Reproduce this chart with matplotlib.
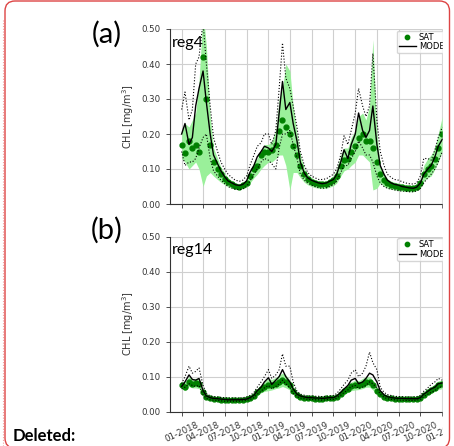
import pandas as pd
import matplotlib
matplotlib.use("Agg")
import matplotlib.pyplot as plt
import matplotlib.dates as mdates
from matplotlib.patches import FancyBboxPatch, Rectangle
from matplotlib.lines import Line2D

# semi-monthly time axis, Jan 2018 .. Jan 2021
dates = pd.date_range("2018-01-01", "2021-01-01", freq="SMS")

# ---- reg4 ----
model4 = [0.20, 0.23, 0.17, 0.19, 0.28, 0.33, 0.38, 0.29, 0.20, 0.14, 0.115, 0.095,
          0.078, 0.066, 0.060, 0.055, 0.053, 0.056, 0.066, 0.090, 0.11, 0.135, 0.15, 0.165,
          0.16, 0.15, 0.17, 0.26, 0.35, 0.27, 0.29, 0.23, 0.18, 0.12, 0.088, 0.075,
          0.068, 0.064, 0.060, 0.058, 0.060, 0.065, 0.070, 0.085, 0.12, 0.155, 0.13, 0.17,
          0.20, 0.26, 0.21, 0.19, 0.21, 0.28, 0.17, 0.11, 0.085, 0.068, 0.060, 0.056,
          0.054, 0.050, 0.048, 0.046, 0.045, 0.048, 0.060, 0.085, 0.10, 0.11, 0.135, 0.165,
          0.185]
model4_hi = [0.27, 0.32, 0.24, 0.27, 0.40, 0.42, 0.52, 0.40, 0.28, 0.19, 0.15, 0.12,
             0.10, 0.085, 0.075, 0.068, 0.065, 0.068, 0.08, 0.11, 0.14, 0.165, 0.175, 0.20,
             0.20, 0.17, 0.21, 0.33, 0.46, 0.36, 0.33, 0.28, 0.22, 0.15, 0.11, 0.09,
             0.08, 0.075, 0.07, 0.07, 0.072, 0.078, 0.085, 0.10, 0.14, 0.195, 0.17, 0.21,
             0.26, 0.33, 0.28, 0.25, 0.28, 0.43, 0.24, 0.15, 0.11, 0.085, 0.075, 0.07,
             0.068, 0.064, 0.06, 0.058, 0.057, 0.06, 0.08, 0.13, 0.13, 0.125, 0.155, 0.19,
             0.22]
model4_lo = [0.15, 0.11, 0.12, 0.12, 0.13, 0.16, 0.19, 0.20, 0.13, 0.095, 0.08, 0.068,
             0.058, 0.05, 0.045, 0.042, 0.041, 0.043, 0.05, 0.065, 0.085, 0.10, 0.12, 0.13,
             0.125, 0.115, 0.10, 0.16, 0.20, 0.20, 0.21, 0.17, 0.13, 0.085, 0.068, 0.06,
             0.054, 0.05, 0.046, 0.045, 0.046, 0.05, 0.055, 0.065, 0.09, 0.11, 0.11, 0.13,
             0.15, 0.18, 0.16, 0.14, 0.14, 0.12, 0.08, 0.06, 0.05, 0.045, 0.042, 0.04,
             0.038, 0.037, 0.036, 0.035, 0.035, 0.037, 0.045, 0.06, 0.075, 0.085, 0.10, 0.12,
             0.15]
sat4 = [0.17, 0.145, 0.18, 0.16, 0.17, 0.15, 0.42, 0.30, 0.17, 0.12, 0.10, 0.085,
        0.072, 0.062, 0.056, 0.052, 0.05, 0.053, 0.06, 0.08, 0.10, 0.11, 0.14, 0.15,
        0.15, 0.155, 0.17, 0.21, 0.24, 0.22, 0.20, 0.165, 0.14, 0.11, 0.085, 0.072,
        0.064, 0.06, 0.057, 0.056, 0.058, 0.062, 0.068, 0.08, 0.11, 0.125, 0.13, 0.15,
        0.165, 0.19, 0.20, 0.18, 0.18, 0.16, 0.12, 0.085, 0.068, 0.06, 0.055, 0.052,
        0.05, 0.048, 0.046, 0.045, 0.045, 0.048, 0.06, 0.085, 0.10, 0.11, 0.13, 0.16,
        0.20]
sat4_hi = [0.21, 0.23, 0.22, 0.24, 0.26, 0.35, 0.55, 0.45, 0.25, 0.16, 0.13, 0.105,
           0.088, 0.074, 0.066, 0.06, 0.058, 0.062, 0.07, 0.095, 0.12, 0.13, 0.15, 0.17,
           0.17, 0.18, 0.21, 0.30, 0.33, 0.40, 0.38, 0.28, 0.20, 0.14, 0.10, 0.085,
           0.075, 0.07, 0.066, 0.065, 0.066, 0.07, 0.08, 0.10, 0.14, 0.16, 0.16, 0.19,
           0.21, 0.25, 0.26, 0.24, 0.28, 0.47, 0.20, 0.11, 0.085, 0.072, 0.065, 0.062,
           0.06, 0.057, 0.055, 0.053, 0.053, 0.057, 0.07, 0.11, 0.13, 0.14, 0.16, 0.20,
           0.25]
sat4_lo = [0.13, 0.12, 0.10, 0.11, 0.12, 0.10, 0.05, 0.08, 0.09, 0.08, 0.07, 0.062,
           0.055, 0.049, 0.045, 0.042, 0.042, 0.044, 0.048, 0.06, 0.075, 0.085, 0.10, 0.11,
           0.12, 0.12, 0.13, 0.14, 0.14, 0.11, 0.04, 0.09, 0.09, 0.075, 0.062, 0.055,
           0.05, 0.047, 0.045, 0.044, 0.045, 0.048, 0.052, 0.06, 0.08, 0.095, 0.10, 0.11,
           0.12, 0.14, 0.14, 0.13, 0.12, 0.04, 0.045, 0.06, 0.05, 0.045, 0.042, 0.04,
           0.038, 0.037, 0.036, 0.035, 0.035, 0.038, 0.045, 0.065, 0.075, 0.08, 0.10, 0.12,
           0.15]

# ---- reg14 ----
model14 = [0.072, 0.085, 0.105, 0.092, 0.09, 0.095, 0.06, 0.045, 0.04, 0.038, 0.037, 0.036,
           0.035, 0.034, 0.034, 0.034, 0.034, 0.035, 0.036, 0.04, 0.047, 0.06, 0.07, 0.085,
           0.097, 0.078, 0.09, 0.10, 0.12, 0.10, 0.085, 0.065, 0.05, 0.045, 0.042, 0.04,
           0.04, 0.039, 0.039, 0.038, 0.039, 0.04, 0.04, 0.045, 0.055, 0.065, 0.075, 0.09,
           0.095, 0.08, 0.085, 0.095, 0.11, 0.105, 0.085, 0.06, 0.048, 0.043, 0.04, 0.039,
           0.038, 0.038, 0.037, 0.037, 0.037, 0.037, 0.04, 0.05, 0.058, 0.065, 0.07, 0.08,
           0.082]
model14_hi = [0.08, 0.10, 0.13, 0.11, 0.115, 0.125, 0.075, 0.052, 0.045, 0.043, 0.042, 0.041,
              0.04, 0.039, 0.039, 0.039, 0.039, 0.04, 0.042, 0.046, 0.055, 0.07, 0.085, 0.10,
              0.12, 0.095, 0.105, 0.12, 0.165, 0.13, 0.13, 0.085, 0.058, 0.05, 0.047, 0.045,
              0.045, 0.044, 0.044, 0.043, 0.044, 0.045, 0.046, 0.052, 0.065, 0.078, 0.09, 0.11,
              0.12, 0.10, 0.11, 0.13, 0.17, 0.14, 0.12, 0.07, 0.055, 0.049, 0.046, 0.044,
              0.043, 0.043, 0.042, 0.042, 0.042, 0.043, 0.046, 0.058, 0.068, 0.078, 0.085, 0.095,
              0.09]
model14_lo = [0.065, 0.07, 0.08, 0.075, 0.072, 0.075, 0.048, 0.038, 0.034, 0.033, 0.032, 0.031,
              0.03, 0.03, 0.03, 0.03, 0.03, 0.031, 0.032, 0.035, 0.04, 0.05, 0.058, 0.068,
              0.075, 0.065, 0.072, 0.08, 0.09, 0.08, 0.068, 0.052, 0.043, 0.039, 0.037, 0.035,
              0.035, 0.034, 0.034, 0.033, 0.034, 0.035, 0.035, 0.039, 0.047, 0.055, 0.062, 0.072,
              0.075, 0.066, 0.07, 0.075, 0.085, 0.08, 0.068, 0.05, 0.041, 0.037, 0.035, 0.034,
              0.033, 0.033, 0.032, 0.032, 0.032, 0.033, 0.035, 0.043, 0.05, 0.055, 0.06, 0.068,
              0.072]
sat14 = [0.075, 0.07, 0.085, 0.08, 0.082, 0.08, 0.055, 0.042, 0.038, 0.036, 0.035, 0.034,
         0.033, 0.033, 0.033, 0.033, 0.033, 0.034, 0.035, 0.038, 0.045, 0.055, 0.065, 0.07,
         0.075, 0.075, 0.08, 0.085, 0.09, 0.085, 0.075, 0.06, 0.048, 0.043, 0.04, 0.039,
         0.038, 0.037, 0.037, 0.037, 0.038, 0.038, 0.039, 0.043, 0.05, 0.058, 0.065, 0.072,
         0.075, 0.075, 0.08, 0.085, 0.085, 0.075, 0.06, 0.05, 0.043, 0.04, 0.038, 0.037,
         0.036, 0.036, 0.036, 0.035, 0.035, 0.036, 0.038, 0.048, 0.055, 0.062, 0.068, 0.075,
         0.078]
sat14_hi = [0.085, 0.085, 0.10, 0.095, 0.095, 0.095, 0.065, 0.048, 0.042, 0.04, 0.039, 0.038,
            0.037, 0.037, 0.037, 0.037, 0.037, 0.038, 0.039, 0.043, 0.052, 0.065, 0.078, 0.085,
            0.095, 0.092, 0.098, 0.105, 0.11, 0.105, 0.09, 0.072, 0.055, 0.048, 0.044, 0.043,
            0.042, 0.041, 0.041, 0.041, 0.042, 0.042, 0.043, 0.048, 0.057, 0.067, 0.076, 0.085,
            0.09, 0.088, 0.095, 0.10, 0.10, 0.09, 0.07, 0.057, 0.048, 0.044, 0.042, 0.041,
            0.04, 0.04, 0.04, 0.039, 0.039, 0.04, 0.043, 0.055, 0.063, 0.072, 0.078, 0.088,
            0.09]
sat14_lo = [0.065, 0.06, 0.072, 0.068, 0.068, 0.066, 0.045, 0.037, 0.034, 0.032, 0.031, 0.031,
            0.03, 0.03, 0.03, 0.03, 0.03, 0.031, 0.031, 0.034, 0.039, 0.046, 0.054, 0.058,
            0.06, 0.062, 0.066, 0.068, 0.072, 0.068, 0.062, 0.05, 0.042, 0.038, 0.036, 0.035,
            0.034, 0.034, 0.033, 0.033, 0.034, 0.034, 0.035, 0.038, 0.044, 0.05, 0.055, 0.06,
            0.062, 0.063, 0.066, 0.07, 0.07, 0.062, 0.05, 0.044, 0.038, 0.036, 0.034, 0.033,
            0.033, 0.033, 0.032, 0.032, 0.032, 0.032, 0.034, 0.042, 0.047, 0.053, 0.058, 0.063,
            0.066]

yticks = [0.0, 0.1, 0.2, 0.3, 0.4, 0.5]

W, H = 454, 446


def px_box(left, top, right, bottom):
    return [left / W, 1 - bottom / H, (right - left) / W, (bottom - top) / H]


def draw_panel(ax, sat, sat_lo, sat_hi, model, model_lo, model_hi):
    ax.fill_between(dates, sat_lo, sat_hi, color="#9af09a", lw=0, zorder=1)
    ax.plot(dates, sat, "o", color="green", ms=3.5, zorder=2, label="SAT")
    ax.plot(dates, model_hi, ":", color="black", lw=0.8, zorder=3)
    ax.plot(dates, model_lo, ":", color="black", lw=0.8, zorder=3)
    ax.plot(dates, model, "-", color="black", lw=1.0, zorder=4, label="MODEL")

    ax.set_xlim(pd.Timestamp("2017-11-13"), pd.Timestamp("2021-02-15"))
    ax.set_ylim(0, 0.5)
    ax.set_yticks(yticks)
    ax.set_yticklabels(["%.2f" % v for v in yticks])
    ax.xaxis.set_major_locator(mdates.MonthLocator(bymonth=[1, 4, 7, 10]))
    ax.xaxis.set_major_formatter(mdates.DateFormatter("%m-%Y"))
    ax.grid(True, color="#cfcfcf", lw=0.8)
    ax.set_axisbelow(True)
    for s in ["top", "right"]:
        ax.spines[s].set_visible(False)
    for s in ["left", "bottom"]:
        ax.spines[s].set_color("#333333")
        ax.spines[s].set_linewidth(0.8)
    ax.tick_params(labelsize=6.2, colors="#333333", length=3, width=0.6)
    ax.set_ylabel("CHL [mg/m$^3$]", fontsize=7, color="#333333", labelpad=4)
    ax.legend(loc="upper right", fontsize=6, numpoints=1, borderaxespad=0.2,
              borderpad=0.25, labelspacing=0.05, handlelength=2.0,
              handletextpad=0.4, markerscale=0.9)


def main():
    fig = plt.figure(figsize=(W / 100, H / 100), dpi=100)

    ax1 = fig.add_axes(px_box(170, 29, 453, 204))
    draw_panel(ax1, sat4, sat4_lo, sat4_hi, model4, model4_lo, model4_hi)
    ax1.tick_params(labelbottom=False)

    ax2 = fig.add_axes(px_box(170, 236.5, 453, 411.7))
    draw_panel(ax2, sat14, sat14_lo, sat14_hi, model14, model14_lo, model14_hi)
    for lab in ax2.get_xticklabels():
        lab.set_rotation(25)
        lab.set_ha("center")

    fig.text(106.5 / W, 1 - 34 / H, "(a)", fontsize=21, family="Lato",
             ha="center", va="center")
    fig.text(106.5 / W, 1 - 230 / H, "(b)", fontsize=21, family="Lato",
             ha="center", va="center")
    fig.text(172 / W, 1 - 43 / H, "reg4", fontsize=11.5, family="Lato",
             ha="left", va="center", zorder=6)
    fig.text(172 / W, 1 - 250 / H, "reg14", fontsize=11.5, family="Lato",
             ha="left", va="center", zorder=6)
    fig.text(13 / W, 1 - 436 / H, "Deleted:", fontsize=12, family="Lato",
             fontweight="bold", ha="left", va="center")

    # crop of the chart on the right side
    fig.add_artist(Rectangle((443 / W, 0), (W - 443) / W, 1,
                             transform=fig.transFigure, color="white", zorder=5))

    # comment box border
    border = FancyBboxPatch((0.05, -0.02), 4.445, 4.47,
                            boxstyle="round,pad=0,rounding_size=0.1",
                            transform=fig.dpi_scale_trans, fill=False,
                            edgecolor="#dd4444", lw=1.0, zorder=7)
    fig.add_artist(border)
    fig.add_artist(Line2D([2.5 / W, 2.5 / W], [0, 1 - 20 / H],
                          transform=fig.transFigure, color="#f2a0a0",
                          ls=(0, (1, 1.5)), lw=0.8, zorder=7))

    fig.savefig("out.png", dpi=100)


if __name__ == "__main__":
    main()
